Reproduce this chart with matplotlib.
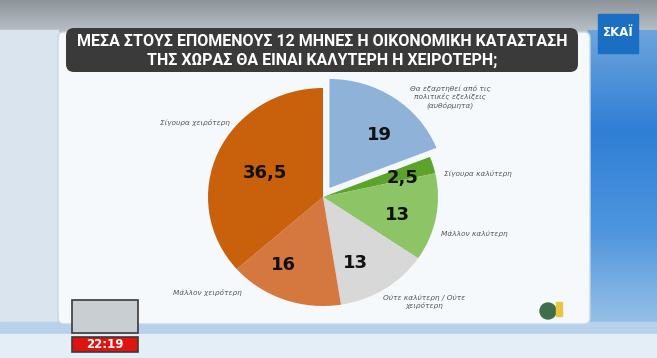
import numpy as np
import matplotlib
matplotlib.use("Agg")
import matplotlib.pyplot as plt
from matplotlib.colors import LinearSegmentedColormap
from matplotlib.patches import Rectangle, FancyBboxPatch

## DATA ##
title = "ΜΕΣΑ ΣΤΟΥΣ ΕΠΟΜΕΝΟΥΣ 12 ΜΗΝΕΣ Η ΟΙΚΟΝΟΜΙΚΗ ΚΑΤΑΣΤΑΣΗ\nΤΗΣ ΧΩΡΑΣ ΘΑ ΕΙΝΑΙ ΚΑΛΥΤΕΡΗ Η ΧΕΙΡΟΤΕΡΗ;"
categories = [
    "Θα εξαρτηθεί από τις\nπολιτικές εξελίξεις\n(αυθόρμητα)",
    "Σίγουρα καλύτερη",
    "Μάλλον καλύτερη",
    "Ούτε καλύτερη / Ούτε\nχειρότερη",
    "Μάλλον χειρότερη",
    "Σίγουρα χειρότερη",
]
values = [19, 2.5, 13, 13, 16, 36.5]
colors = ["#8fb2d8", "#5da22a", "#8cc466", "#d8d8d8", "#d5783f", "#c8600c"]
explode = [0.1, 0, 0, 0, 0, 0]
# label placement in pixels (x, y, ha)
label_pos = [(450, 97, "center"), (444, 174, "left"), (441, 234, "left"),
             (424, 302, "center"), (242, 292, "right"), (230, 123, "right")]
# small hand nudges of the value labels (axes units)
nudges = [(0.06, -0.06), (0.06, -0.02), (0.0, -0.04), (-0.07, -0.05), (-0.12, 0.0), (0.1, -0.05)]
clock = "22:19"

W, H = 657, 358
fig = plt.figure(figsize=(W / 100, H / 100), dpi=100)
fig.patch.set_facecolor("#dde7ef")

## BACKGROUND (pixel coords) ##
bg = fig.add_axes([0, 0, 1, 1])
bg.set_xlim(0, W)
bg.set_ylim(H, 0)
bg.axis("off")
grad = np.linspace(0, 1, 256).reshape(-1, 1)
bg.imshow(grad, extent=(0, W, 32, 0), aspect="auto", zorder=0,
          cmap=LinearSegmentedColormap.from_list("top", ["#8e949a", "#b9c0c7"]))
bg.imshow(grad, extent=(588, W, 330, 30), aspect="auto", zorder=0,
          cmap=LinearSegmentedColormap.from_list("side", ["#6ea4dc", "#2f7fd6", "#4d95de", "#9cc3e8"]))
bg.add_patch(Rectangle((0, 30), 58, 300, color="#d9e4ee", zorder=0))
bg.add_patch(Rectangle((0, 322), W, 12, color="#b7d2ea", zorder=1))
bg.add_patch(Rectangle((0, 334), W, 24, color="#e4eef6", zorder=1))
bg.add_patch(FancyBboxPatch((58, 32), 532, 292, boxstyle="round,pad=0,rounding_size=6",
                            fc="#f6f9fb", ec="#c9d6e0", lw=1, zorder=2))
bg.add_patch(FancyBboxPatch((66, 28), 512, 44, boxstyle="round,pad=0,rounding_size=8",
                            fc="#3a3a3a", ec="none", zorder=3))
bg.text(322, 51, title, color="white", fontsize=11.5, fontweight="bold",
        family=["Roboto", "DejaVu Sans"], ha="center", va="center",
        linespacing=1.3, zorder=4)

# channel logo
bg.add_patch(Rectangle((598, 14), 40, 39, color="#1a6fc2", zorder=4))
bg.text(618, 33, "ΣΚΑΪ", color="white", fontsize=8.5, fontweight="bold",
        ha="center", va="center", zorder=5)

# clock + thumbnail
bg.add_patch(Rectangle((72, 300), 66, 33, fc="#c9ced3", ec="#3a3a3a", lw=1.2, zorder=4))
bg.add_patch(Rectangle((72, 337), 66, 15, fc="#e0140f", ec="#3a3a3a", lw=1.2, zorder=4))
bg.text(105, 344.5, clock, color="white", fontsize=8.5, fontweight="bold",
        ha="center", va="center", zorder=5)

# pollster logo
bg.add_patch(plt.Circle((548, 311), 8, color="#3f6e4a", zorder=4))
bg.add_patch(Rectangle((556, 302), 6, 14, color="#e8c640", zorder=4))

# category labels
for (x, y, ha), lab in zip(label_pos, categories):
    bg.text(x, y, lab, fontsize=5.3, style="italic", color="#555555",
            ha=ha, va="center", linespacing=1.2, zorder=5)

## PIE (slightly wider than tall, as on screen) ##
cx, cy, rx, ry = 323, 197, 115, 109
ax = fig.add_axes([(cx - 1.2 * rx) / W, 1 - (cy + 1.2 * ry) / H, 2.4 * rx / W, 2.4 * ry / H])
wedges, texts, autotexts = ax.pie(
    values, colors=colors, explode=explode, startangle=90, counterclock=False,
    autopct=lambda p: "", pctdistance=0.66, radius=1.0,
    wedgeprops=dict(linewidth=0))
for v, t, (dx, dy) in zip(values, autotexts, nudges):
    t.set_text(f"{v:g}".replace(".", ","))
    t.set_fontsize(13)
    t.set_fontweight("bold")
    t.set_color("#111111")
    x0, y0 = t.get_position()
    t.set_position((x0 + dx, y0 + dy))
ax.set_xlim(-1.2, 1.2)
ax.set_ylim(-1.2, 1.2)
ax.set_aspect("auto")
ax.axis("off")

fig.savefig("out.png", dpi=100)
